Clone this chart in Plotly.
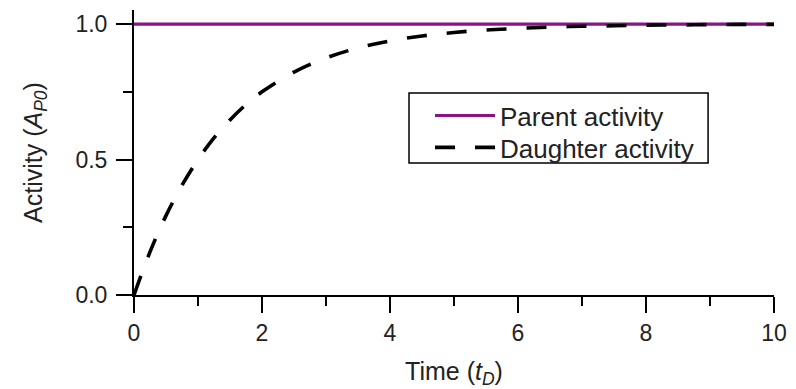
import plotly.graph_objects as go

# Data
parent_t = [0, 10]
parent_activity = [1.0, 1.0]

daughter_t = [0, 0.25, 0.5, 0.75, 1, 1.25, 1.5, 1.75, 2, 2.5, 3, 3.5, 4, 4.5,
              5, 5.5, 6, 6.5, 7, 7.5, 8, 8.5, 9, 9.5, 10]
daughter_activity = [0.0, 0.159, 0.293, 0.405, 0.5, 0.58, 0.646, 0.703, 0.75,
                     0.823, 0.875, 0.912, 0.938, 0.956, 0.969, 0.978, 0.984,
                     0.989, 0.992, 0.994, 0.996, 0.997, 0.998, 0.999, 0.999]

x_ticks = [0, 2, 4, 6, 8, 10]
y_ticks = [0.0, 0.5, 1.0]

FONT = "Liberation Sans, Arial, sans-serif"
TXT = "#222222"

fig = go.Figure()
fig.add_trace(go.Scatter(
    x=parent_t, y=parent_activity, mode="lines", name="Parent activity",
    line=dict(color="#8a138c", width=3.2), legend="legend",
))
fig.add_trace(go.Scatter(
    x=daughter_t, y=daughter_activity, mode="lines", name="Daughter activity",
    line=dict(color="black", width=3.6, dash="20px,20px", shape="spline"),
    legend="legend2",
))

axis_common = dict(
    showline=True, linecolor="black", linewidth=2,
    ticks="outside", ticklen=16, tickwidth=2, tickcolor="black",
    showgrid=False, zeroline=False, mirror=False,
    tickfont=dict(family=FONT, size=23, color=TXT),
)

fig.update_xaxes(
    range=[0, 10], tickvals=x_ticks, ticktext=[str(v) for v in x_ticks],
    minor=dict(dtick=1, tick0=0, ticks="outside", ticklen=9, tickwidth=2, tickcolor="black"),
    title=dict(text="Time (<i>t</i><sub><i>D</i></sub>)",
               font=dict(family=FONT, size=25, color=TXT), standoff=18),
    **axis_common,
)
fig.update_yaxes(
    range=[0, 1.052], tickvals=y_ticks, ticktext=[f"{v:.1f}" for v in y_ticks],
    minor=dict(dtick=0.25, tick0=0, ticks="outside", ticklen=9, tickwidth=2, tickcolor="black"),
    title=dict(text="Activity (<i>A</i><sub><i>P0</i></sub>)",
               font=dict(family=FONT, size=25, color=TXT), standoff=26),
    ticklabelstandoff=4,
    **axis_common,
)

# legend frame (drawn as a rectangle so the padding matches the reference)
fig.add_shape(
    type="rect", xref="paper", yref="paper",
    x0=0.4297, x1=0.897, y0=0.463, y1=0.709,
    line=dict(color="black", width=1.5), fillcolor="white", layer="above",
)

legend_common = dict(
    xanchor="left", yanchor="top",
    bgcolor="rgba(0,0,0,0)", borderwidth=0,
    font=dict(family=FONT, size=26, color=TXT),
    itemwidth=60, tracegroupgap=0,
)

fig.update_layout(
    width=788, height=381,
    margin=dict(l=126, r=22, t=2, b=94),
    paper_bgcolor="white", plot_bgcolor="white",
    showlegend=True,
    legend=dict(x=0.4625, y=0.712, **legend_common),
    legend2=dict(x=0.4625, y=0.600, **legend_common),
)

fig.write_html("out.html")
